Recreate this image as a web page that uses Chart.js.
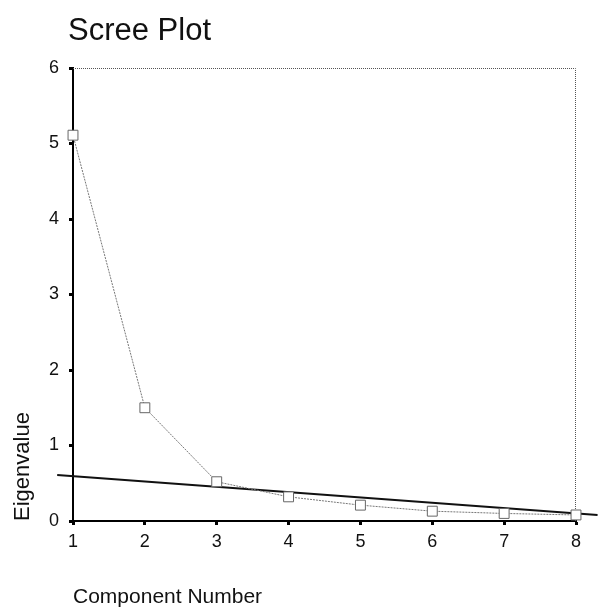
<!DOCTYPE html>
<html>
<head>
<meta charset="utf-8">
<script src="https://cdn.jsdelivr.net/npm/chart.js@4.4.0/dist/chart.umd.min.js"></script>
<style>
  html, body { margin: 0; padding: 0; background: #fff; }
  #wrap { width: 598px; height: 609px; }
</style>
</head>
<body>
<div id="wrap"><canvas id="scree" width="598" height="609"></canvas></div>
<script>
// data
const komponen = [1, 2, 3, 4, 5, 6, 7, 8];
const eigenvalue = [5.11, 1.50, 0.52, 0.32, 0.21, 0.13, 0.10, 0.08];
const garisX = [0.78, 8.3];
const garisY = [0.61, 0.08];
const judul = 'Scree Plot';

const fontKu = '"Liberation Sans", Arial, sans-serif';

// judul + bingkai titik-titik atas dan kanan
const dekorasi = {
    id: 'dekorasi',
    beforeDatasetsDraw(chart) {
        const {ctx, chartArea: a} = chart;
        ctx.save();
        ctx.strokeStyle = '#555';
        ctx.lineWidth = 1;
        ctx.setLineDash([1, 1]);
        ctx.beginPath();
        ctx.moveTo(a.left, a.top + 0.5);
        ctx.lineTo(a.right - 0.5, a.top + 0.5);
        ctx.lineTo(a.right - 0.5, a.bottom);
        ctx.stroke();
        ctx.restore();
    },
    afterDraw(chart) {
        const ctx = chart.ctx;
        ctx.save();
        ctx.fillStyle = '#111';
        ctx.font = '31px ' + fontKu;
        ctx.textBaseline = 'alphabetic';
        ctx.fillText(judul, 68, 40);
        ctx.restore();
    }
};

new Chart(document.getElementById('scree').getContext('2d'), {
    type: 'line',
    data: {
        datasets: [{
            label: 'Eigenvalue',
            data: komponen.map((k, i) => ({x: k, y: eigenvalue[i]})),
            borderColor: '#777',
            borderWidth: 1,
            borderDash: [2, 1],
            pointStyle: 'rect',
            pointRadius: 7,
            pointBorderWidth: 1,
            pointBorderColor: '#666',
            pointBackgroundColor: '#fff',
            tension: 0,
            clip: false
        }, {
            label: 'garis',
            data: garisX.map((x, i) => ({x: x, y: garisY[i]})),
            borderColor: '#111',
            borderWidth: 2,
            pointRadius: 0,
            clip: false
        }]
    },
    options: {
        responsive: false,
        animation: false,
        layout: {
            padding: {top: 68, right: 22, left: 0, bottom: 0}
        },
        plugins: {
            legend: {display: false},
            tooltip: {enabled: false}
        },
        scales: {
            x: {
                type: 'linear',
                min: 1,
                max: 8,
                afterFit: function(s) { s.height = 88; },
                ticks: {
                    stepSize: 1,
                    padding: 6,
                    color: '#111',
                    font: {family: fontKu, size: 18}
                },
                grid: {
                    drawOnChartArea: false,
                    drawTicks: true,
                    tickLength: 4,
                    tickWidth: 3,
                    tickColor: '#000'
                },
                border: {color: '#000', width: 2},
                title: {
                    display: true,
                    text: 'Component Number',
                    align: 'start',
                    color: '#111',
                    font: {family: fontKu, size: 21, lineHeight: 1.1},
                    padding: {top: 0, bottom: 0}
                }
            },
            y: {
                min: 0,
                max: 6,
                afterFit: function(s) { s.width = 73; },
                ticks: {
                    stepSize: 1,
                    padding: 10,
                    color: '#111',
                    font: {family: fontKu, size: 18}
                },
                grid: {
                    drawOnChartArea: false,
                    drawTicks: true,
                    tickLength: 4,
                    tickWidth: 3,
                    tickColor: '#000'
                },
                border: {color: '#000', width: 2},
                title: {
                    display: true,
                    text: 'Eigenvalue',
                    align: 'start',
                    color: '#111',
                    font: {family: fontKu, size: 22, lineHeight: 1.2},
                    padding: {top: 10, bottom: 0}
                }
            }
        }
    },
    plugins: [dekorasi]
});
</script>
</body>
</html>
